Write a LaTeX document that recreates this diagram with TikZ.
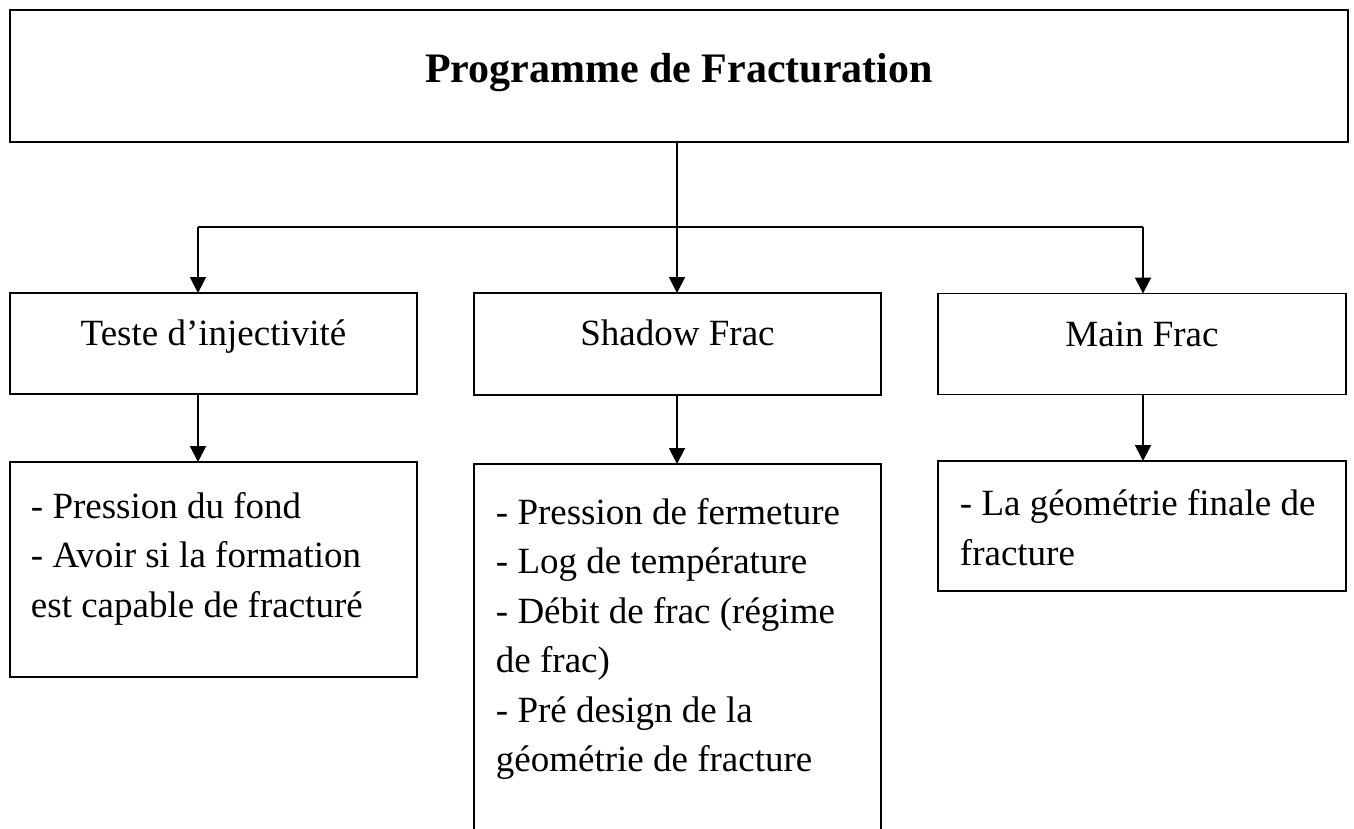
\documentclass[tikz,border=0pt]{standalone}
\usepackage{fontspec}
\setmainfont{Liberation Serif}
\usetikzlibrary{arrows.meta}
\begin{document}
\begin{tikzpicture}[x=1pt,y=-1pt,line width=1.9pt,
  box/.style={draw,rectangle,inner sep=0pt,outer sep=0pt},
  openbox/.style={rectangle,inner sep=0pt,outer sep=0pt},
  txt/.style={anchor=base west,inner sep=0pt,font=\fontsize{37}{44}\selectfont},
  ctxt/.style={anchor=base,inner sep=0pt,font=\fontsize{37}{44}\selectfont},
  ttl/.style={anchor=base,inner sep=0pt,font=\fontsize{42}{50}\selectfont\bfseries},
  arr/.style={-{Triangle[length=16pt,width=16pt]}}]
\useasboundingbox[fill=white] (0,0) rectangle (1354,828);

% boxes
\node[box,minimum width=1338pt,minimum height=132pt] (title) at (679,76) {};
\node[box,minimum width=407pt,minimum height=101pt] (teste) at (213.5,343.5) {};
\node[box,minimum width=407pt,minimum height=102pt] (shadow) at (677.5,344) {};
\node[box,minimum width=408pt,minimum height=101pt] (main) at (1142,344) {};
\node[box,minimum width=407pt,minimum height=215pt] (info1) at (213.5,569.5) {};
\node[openbox,minimum width=407pt,minimum height=376pt] (info2) at (677.5,652) {};
\draw (info2.south west) -- (info2.north west) -- (info2.north east) -- (info2.south east);
\node[box,minimum width=408pt,minimum height=130pt] (info3) at (1142,526) {};

% texts
\node[ttl] (ttitle) at (679,82) {Programme de Fracturation};
\node[ctxt] (tteste) at (213.5,345) {Teste d’injectivité};
\node[ctxt] (tshadow) at (677.5,345) {Shadow Frac};
\node[ctxt] (tmain) at (1142,346) {Main Frac};

\node[txt] (a1) at (30,518) {- Pression du fond};
\node[txt] (a2) at (30,567) {- Avoir si la formation};
\node[txt] (a3) at (30,617) {est capable de fracturé};

\node[txt] (b1) at (495,524) {- Pression de fermeture};
\node[txt] (b2) at (495,573) {- Log de température};
\node[txt] (b3) at (495,623) {- Débit de frac (régime};
\node[txt] (b4) at (495,672) {de frac)};
\node[txt] (b5) at (495,722) {- Pré design de la};
\node[txt] (b6) at (495,771) {géométrie de fracture};

\node[txt] (c1) at (959,515) {- La géométrie finale de};
\node[txt] (c2) at (959,565) {fracture};

% connectors
\coordinate (jc) at (677,227);
\coordinate (jl) at (198,227);
\coordinate (jr) at (1143,227);
\draw (title.south -| jc) -- (jc);
\draw (jl) -- (jr);
\draw[arr] (jl) -- (teste.north -| jl);
\draw[arr] (jc) -- (shadow.north -| jc);
\draw[arr] (jr) -- (main.north -| jr);
\draw[arr] (teste.south -| jl) -- (info1.north -| jl);
\draw[arr] (shadow.south -| jc) -- (info2.north -| jc);
\draw[arr] (main.south -| jr) -- (info3.north -| jr);
\end{tikzpicture}
\end{document}
